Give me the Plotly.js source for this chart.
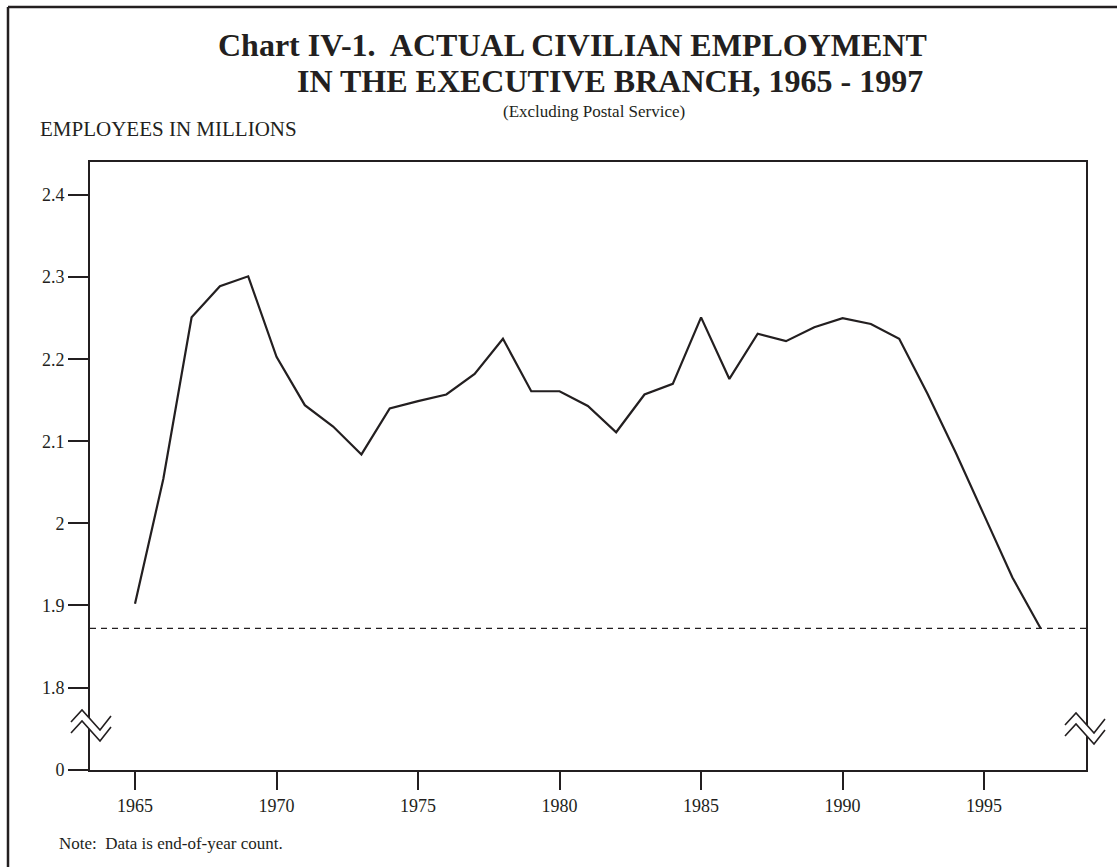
<!DOCTYPE html>
<html>
<head>
<meta charset="utf-8">
<script src="https://cdn.plot.ly/plotly-3.0.1.min.js"></script>
<style>html,body{margin:0;padding:0;background:#fff;}#chart{width:1117px;height:867px;}</style>
</head>
<body>
<div id="chart"></div>
<script>
// ---- data (employees in millions, end of year, excluding Postal Service) ----
const years = [1965,1966,1967,1968,1969,1970,1971,1972,1973,1974,1975,1976,1977,1978,1979,1980,
               1981,1982,1983,1984,1985,1986,1987,1988,1989,1990,1991,1992,1993,1994,1995,1996,1997];
const employment = [1.902,2.054,2.251,2.289,2.301,2.203,2.144,2.118,2.084,2.140,2.149,2.157,2.182,2.225,2.161,2.161,
                    2.143,2.111,2.157,2.170,2.251,2.176,2.231,2.222,2.239,2.250,2.243,2.225,2.158,2.086,2.010,1.934,1.872];
const xTickVals = [1965,1970,1975,1980,1985,1990,1995];
const yTickVals = [1.70,1.8,1.9,2.0,2.1,2.2,2.3,2.4];   // 1.70 position stands for the broken-axis zero
const yTickText = ['0','1.8','1.9','2','2.1','2.2','2.3','2.4'];

const W = 1117, H = 867;
const M = {l:90, r:31, t:162, b:97};
const PW = W - M.l - M.r, PH = H - M.t - M.b;
const px = x => (x - M.l) / PW;
const py = y => (H - M.b - y) / PH;
const INK = '#231f20';
const FONT = 'Liberation Serif, Times New Roman, serif';

function pathFrom(pts){ return 'M ' + pts.map(p => px(p[0]).toFixed(5)+','+py(p[1]).toFixed(5)).join(' L '); }

function breakShapes(x0, yc){
  // double zig-zag axis break symbol, pixel offsets
  const up = [[0,-2],[11,-14],[29,6],[40,-8]].map(p=>[x0+p[0], yc+p[1]]);
  const lo = up.map(p=>[p[0], p[1]+11]);
  const fill = pathFrom(up.concat(lo.slice().reverse())) + ' Z';
  return [
    {type:'path', xref:'paper', yref:'paper', path:fill, fillcolor:'#fff', line:{width:0}, layer:'above'},
    {type:'path', xref:'paper', yref:'paper', path:pathFrom(up), line:{color:INK, width:1.6}, layer:'above'},
    {type:'path', xref:'paper', yref:'paper', path:pathFrom(lo), line:{color:INK, width:1.6}, layer:'above'}
  ];
}

const trace = {
  x: years, y: employment, type:'scatter', mode:'lines',
  line:{color:INK, width:2.2}, hoverinfo:'x+y', showlegend:false
};

const shapes = [
  // dashed reference line at latest (1997) level
  {type:'line', xref:'paper', yref:'y', x0:0, x1:1, y0:employment[employment.length-1], y1:employment[employment.length-1],
   line:{color:INK, width:1.3, dash:'6px,5px'}, layer:'above'},
  // page border (top and left)
  {type:'line', xref:'paper', yref:'paper', x0:px(8), x1:px(1117), y0:py(7), y1:py(7), line:{color:INK, width:2.5}},
  {type:'line', xref:'paper', yref:'paper', x0:px(8), x1:px(8), y0:py(7), y1:py(867), line:{color:INK, width:2.5}}
].concat(breakShapes(71, 724)).concat(breakShapes(1065, 727));

const annotations = [
  {text:'<b>Chart IV-1.  ACTUAL CIVILIAN EMPLOYMENT</b>', xref:'paper', yref:'paper', x:px(572), y:py(45),
   xanchor:'center', yanchor:'middle', showarrow:false, font:{family:FONT, size:32, color:INK}},
  {text:'<b>IN THE EXECUTIVE BRANCH, 1965 - 1997</b>', xref:'paper', yref:'paper', x:px(610), y:py(81),
   xanchor:'center', yanchor:'middle', showarrow:false, font:{family:FONT, size:32, color:INK}},
  {text:'(Excluding Postal Service)', xref:'paper', yref:'paper', x:px(594), y:py(111),
   xanchor:'center', yanchor:'middle', showarrow:false, font:{family:FONT, size:17, color:INK}},
  {text:'EMPLOYEES IN MILLIONS', xref:'paper', yref:'paper', x:px(38), y:py(129),
   xanchor:'left', yanchor:'middle', showarrow:false, font:{family:FONT, size:21, color:INK}},
  {text:'Note:  Data is end-of-year count.', xref:'paper', yref:'paper', x:px(57), y:py(843),
   xanchor:'left', yanchor:'middle', showarrow:false, font:{family:FONT, size:17, color:INK}}
];

const layout = {
  width:W, height:H, margin:M, paper_bgcolor:'#fff', plot_bgcolor:'#fff',
  font:{family:FONT, color:INK},
  showlegend:false,
  xaxis:{range:[1963.41,1998.6], tickvals:xTickVals, ticktext:xTickVals.map(String),
         ticks:'outside', ticklen:18, tickwidth:2, tickcolor:INK,
         showline:true, linecolor:INK, linewidth:2, mirror:true,
         showgrid:false, zeroline:false, tickfont:{family:FONT, size:18, color:INK}},
  yaxis:{range:[1.6995,2.4403], tickvals:yTickVals, ticktext:yTickText,
         ticks:'outside', ticklen:20, tickwidth:2, tickcolor:INK,
         showline:true, linecolor:INK, linewidth:2, mirror:true,
         showgrid:false, zeroline:false, tickfont:{family:FONT, size:18, color:INK}},
  shapes:shapes, annotations:annotations
};

Plotly.newPlot('chart', [trace], layout, {displayModeBar:false, staticPlot:true});
</script>
</body>
</html>
